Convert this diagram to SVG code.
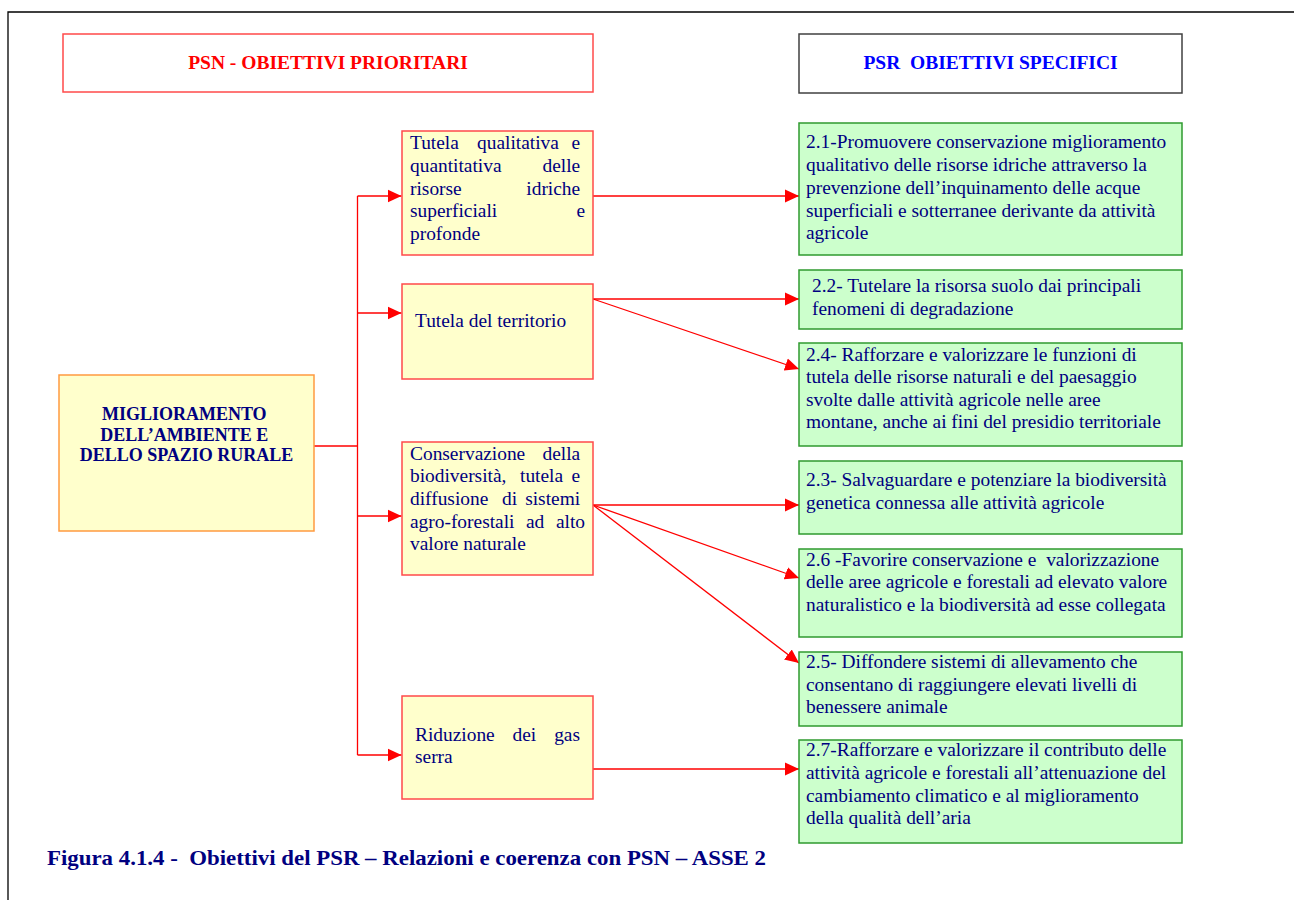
<svg xmlns="http://www.w3.org/2000/svg" width="1294" height="900" viewBox="0 0 1294 900">
<style>
  text { font-family: "Liberation Serif", "Times New Roman", serif; }
  .t { font-size: 19.4px; fill: #000080; }
  .b { font-size: 18px; font-weight: bold; fill: #000080; }
  .h { font-size: 19.5px; font-weight: bold; white-space: pre; }
  .cap { font-size: 22px; font-weight: bold; fill: #000080; white-space: pre; }
  .y { fill: #FFFFCC; stroke: #FF4A4A; stroke-width: 1.5; }
  .m { fill: #FFFFCC; stroke: #FF9A40; stroke-width: 1.5; }
  .g { fill: #CCFFCC; stroke: #2F9A2F; stroke-width: 1.5; }
  .c { stroke: #FF0000; stroke-width: 1.3; fill: none; }
  .e { text-anchor: end; }
</style>
<defs>
  <marker id="arr" markerUnits="userSpaceOnUse" markerWidth="14" markerHeight="14" viewBox="0 0 12 11" refX="12" refY="5.5" orient="auto">
    <path d="M0,0 L12,5.5 L0,11 Z" fill="#FF0000"/>
  </marker>
</defs>
<rect width="1294" height="900" fill="#FFFFFF"/>
<g id="page-border" stroke="#000000" stroke-width="1.3" fill="none">
  <path d="M8,900 L8,12 L1294,12"/>
</g>

<g id="hdr-psn">
  <rect x="63" y="34" width="530" height="58" fill="#FFFFFF" stroke="#FF4A4A" stroke-width="1.5"/>
  <text class="h" x="328" y="69" text-anchor="middle" fill="#FF0000">PSN - OBIETTIVI PRIORITARI</text>
</g>
<g id="hdr-psr">
  <rect x="799" y="34" width="383" height="59" fill="#FFFFFF" stroke="#404040" stroke-width="1.5"/>
  <text class="h" x="990.5" y="69" text-anchor="middle" fill="#0000FF">PSR  OBIETTIVI SPECIFICI</text>
</g>

<g id="connectors">
  <path class="c" d="M314,446 L357.5,446"/>
  <path class="c" d="M357.5,196 L357.5,755"/>
  <path class="c" d="M357.5,196 L401.5,196" marker-end="url(#arr)"/>
  <path class="c" d="M357.5,313 L401.5,313" marker-end="url(#arr)"/>
  <path class="c" d="M357.5,516 L401.5,516" marker-end="url(#arr)"/>
  <path class="c" d="M357.5,755 L401.5,755" marker-end="url(#arr)"/>
  <path class="c" d="M593,196 L799,196" marker-end="url(#arr)"/>
  <path class="c" d="M593,299 L799,299" marker-end="url(#arr)"/>
  <path class="c" d="M593,299 L799,369" marker-end="url(#arr)"/>
  <path class="c" d="M593,505 L799,505" marker-end="url(#arr)"/>
  <path class="c" d="M593,505 L799,578" marker-end="url(#arr)"/>
  <path class="c" d="M593,505 L799,663" marker-end="url(#arr)"/>
  <path class="c" d="M593,769 L799,769" marker-end="url(#arr)"/>
</g>

<g id="main">
  <rect class="m" x="59" y="375" width="255" height="156"/>
  <text class="b" text-anchor="middle">
    <tspan x="186.5" y="420">MIGLIORAMENTO</tspan>
    <tspan x="186.5" y="440.7">DELL’AMBIENTE E</tspan>
    <tspan x="186.5" y="461">DELLO SPAZIO RURALE</tspan>
  </text>
</g>

<g id="p1">
  <rect class="y" x="402" y="131" width="191" height="124"/>
  <text class="t">
    <tspan x="410" y="149.3">Tutela</tspan><tspan x="477" y="149.3">qualitativa</tspan>
    <tspan x="410" y="172">quantitativa</tspan>
    <tspan x="410" y="194.7">risorse</tspan>
    <tspan x="410" y="217.4">superficiali</tspan>
    <tspan x="410" y="240">profonde</tspan>
  </text>
  <text class="t e">
    <tspan x="585" y="149.3">e</tspan>
    <tspan x="585" y="172">delle</tspan>
    <tspan x="585" y="194.7">idriche</tspan>
    <tspan x="585" y="217.4">e</tspan>
  </text>
</g>

<g id="p2">
  <rect class="y" x="402" y="284" width="191" height="95"/>
  <text class="t" x="415" y="327">Tutela del territorio</text>
</g>

<g id="p3">
  <rect class="y" x="402" y="442" width="191" height="133"/>
  <text class="t">
    <tspan x="410" y="460">Conservazione</tspan>
    <tspan x="410" y="482">biodiversità,</tspan><tspan x="520" y="482">tutela</tspan>
    <tspan x="410" y="505">diffusione</tspan><tspan x="502" y="505">di</tspan>
    <tspan x="410" y="528">agro-forestali</tspan><tspan x="526" y="528">ad</tspan>
    <tspan x="410" y="550">valore naturale</tspan>
  </text>
  <text class="t e">
    <tspan x="585" y="460">della</tspan>
    <tspan x="585" y="482">e</tspan>
    <tspan x="585" y="505">sistemi</tspan>
    <tspan x="585" y="528">alto</tspan>
  </text>
</g>

<g id="p4">
  <rect class="y" x="402" y="696" width="191" height="103"/>
  <text class="t">
    <tspan x="415" y="740.7">Riduzione</tspan><tspan x="512.5" y="740.7">dei</tspan>
    <tspan x="415" y="763.3">serra</tspan>
  </text>
  <text class="t e" x="580" y="740.7">gas</text>
</g>

<g id="s21">
  <rect class="g" x="799" y="123" width="383" height="132"/>
  <text class="t">
    <tspan x="806" y="148.3">2.1-Promuovere conservazione miglioramento</tspan>
    <tspan x="806" y="171">qualitativo delle risorse idriche attraverso  la</tspan>
    <tspan x="806" y="193.8">prevenzione dell’inquinamento delle acque</tspan>
    <tspan x="806" y="216.6">superficiali e sotterranee derivante da attività</tspan>
    <tspan x="806" y="239.3">agricole</tspan>
  </text>
</g>

<g id="s22">
  <rect class="g" x="799" y="270" width="383" height="59"/>
  <text class="t">
    <tspan x="812" y="291.7">2.2- Tutelare la risorsa suolo dai principali</tspan>
    <tspan x="812" y="315">fenomeni di degradazione</tspan>
  </text>
</g>

<g id="s24">
  <rect class="g" x="799" y="343" width="383" height="103"/>
  <text class="t">
    <tspan x="806" y="360.5">2.4- Rafforzare e valorizzare le funzioni di</tspan>
    <tspan x="806" y="383.3">tutela delle risorse naturali e del paesaggio</tspan>
    <tspan x="806" y="405.5">svolte dalle attività agricole nelle aree</tspan>
    <tspan x="806" y="428.3">montane, anche ai fini del presidio territoriale</tspan>
  </text>
</g>

<g id="s23">
  <rect class="g" x="799" y="461" width="383" height="73"/>
  <text class="t">
    <tspan x="806" y="486">2.3- Salvaguardare e potenziare la biodiversità</tspan>
    <tspan x="806" y="509.3">genetica connessa alle attività agricole</tspan>
  </text>
</g>

<g id="s26">
  <rect class="g" x="799" y="549" width="383" height="88"/>
  <text class="t" style="white-space:pre">
    <tspan x="806" y="566">2.6 -Favorire conservazione e  valorizzazione</tspan>
    <tspan x="806" y="588.3">delle aree agricole e forestali ad elevato valore</tspan>
    <tspan x="806" y="611">naturalistico e la biodiversità ad esse collegata</tspan>
  </text>
</g>

<g id="s25">
  <rect class="g" x="799" y="652" width="383" height="74"/>
  <text class="t">
    <tspan x="806" y="668.3">2.5- Diffondere sistemi di allevamento che</tspan>
    <tspan x="806" y="690.7">consentano di raggiungere elevati livelli di</tspan>
    <tspan x="806" y="713.3">benessere animale</tspan>
  </text>
</g>

<g id="s27">
  <rect class="g" x="799" y="740" width="383" height="103"/>
  <text class="t">
    <tspan x="806" y="756">2.7-Rafforzare e valorizzare il contributo delle</tspan>
    <tspan x="806" y="779.3">attività agricole e forestali all’attenuazione del</tspan>
    <tspan x="806" y="801.7">cambiamento climatico e al miglioramento</tspan>
    <tspan x="806" y="824.3">della qualità dell’aria</tspan>
  </text>
</g>

<g id="caption">
  <text class="cap" x="47" y="865" textLength="719" lengthAdjust="spacingAndGlyphs">Figura 4.1.4 -  Obiettivi del PSR – Relazioni e coerenza con PSN – ASSE 2</text>
</g>
</svg>
